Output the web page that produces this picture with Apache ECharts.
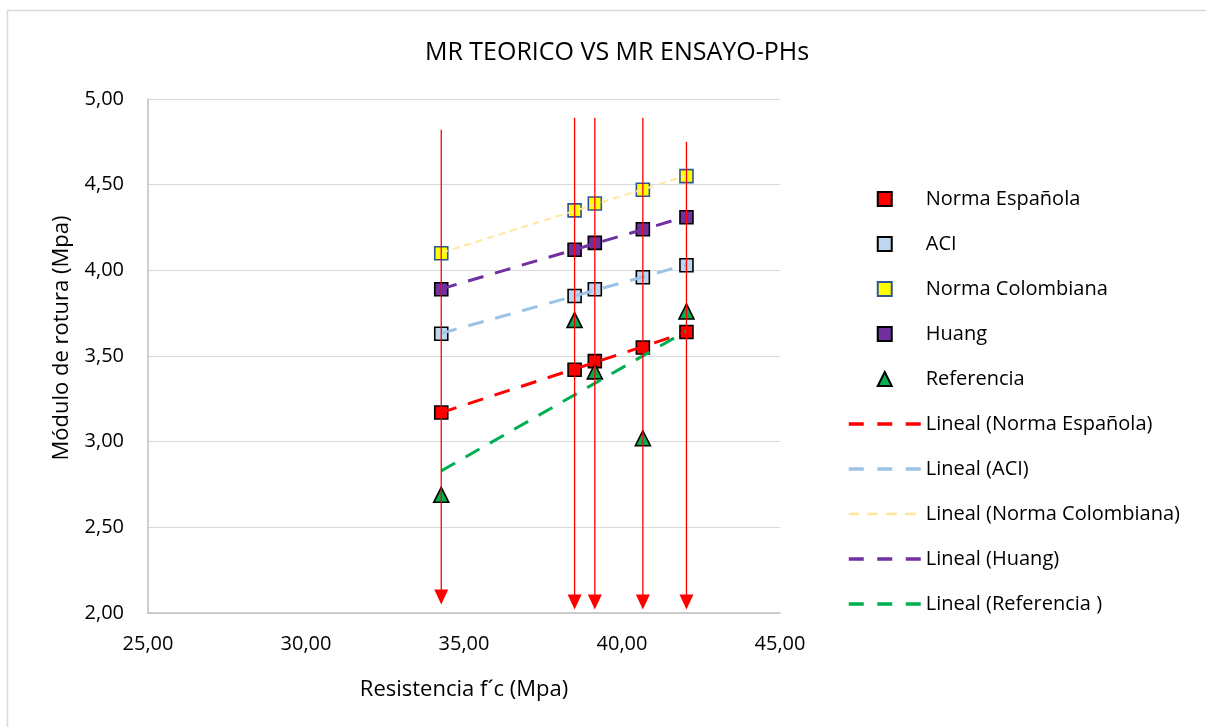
<!DOCTYPE html>
<html>
<head>
<meta charset="utf-8">
<script src="https://cdn.jsdelivr.net/npm/echarts@6/dist/echarts.min.js"></script>
<style>
  html, body { margin: 0; padding: 0; background: #fff; }
  #chart { width: 1206px; height: 727px; }
</style>
</head>
<body>
<div id="chart"></div>
<script>
// Resistencia f'c (Mpa) de cada ensayo
const resistencia = [34.28, 38.50, 39.14, 40.66, 42.04];

// Módulo de rotura (Mpa) según cada método
const normaEspanola   = [3.17, 3.42, 3.47, 3.55, 3.64];
const aci             = [3.63, 3.85, 3.89, 3.96, 4.03];
const normaColombiana = [4.10, 4.35, 4.39, 4.47, 4.55];
const huang           = [3.89, 4.12, 4.16, 4.24, 4.31];
const referencia      = [2.69, 3.71, 3.41, 3.02, 3.76];

// Flechas verticales: extremo superior e inferior (Mpa)
const flechaInicio = [4.82, 4.89, 4.89, 4.89, 4.75];
const flechaFin    = [2.05, 2.02, 2.02, 2.02, 2.02];

// Ejes
const xTicks = [25, 30, 35, 40, 45];
const yTicks = [2.0, 2.5, 3.0, 3.5, 4.0, 4.5, 5.0];

const FONT = '"Open Sans", "Noto Sans", sans-serif';

function pares(ys) { return resistencia.map((x, i) => [x, ys[i]]); }

// Recta de mínimos cuadrados (línea de tendencia lineal)
function tendencia(ys) {
  const n = resistencia.length;
  const mx = resistencia.reduce((a, b) => a + b, 0) / n;
  const my = ys.reduce((a, b) => a + b, 0) / n;
  let sxy = 0, sxx = 0;
  for (let i = 0; i < n; i++) {
    sxy += (resistencia[i] - mx) * (ys[i] - my);
    sxx += (resistencia[i] - mx) ** 2;
  }
  const m = sxy / sxx, b = my - m * mx;
  const x0 = Math.min(...resistencia), x1 = Math.max(...resistencia);
  return [[x0, m * x0 + b], [x1, m * x1 + b]];
}

const fmt = v => v.toFixed(2).replace('.', ',');

const metodos = [
  { name: 'Norma Española',   data: normaEspanola,   fill: '#FF0000', border: '#000000', symbol: 'rect',
    trend: 'Lineal (Norma Española)',   tColor: '#FF0000', tWidth: 3, tDash: [16, 12], lDash: [15, 13.5] },
  { name: 'ACI',              data: aci,             fill: '#BDD7EE', border: '#000000', symbol: 'rect',
    trend: 'Lineal (ACI)',              tColor: '#9DC3E6', tWidth: 3, tDash: [16, 12], lDash: [15, 13.5] },
  { name: 'Norma Colombiana', data: normaColombiana, fill: '#FFFF00', border: '#2F5597', symbol: 'rect',
    trend: 'Lineal (Norma Colombiana)', tColor: '#FFE699', tWidth: 2, tDash: [7, 5],   lDash: [10.5, 8.3] },
  { name: 'Huang',            data: huang,           fill: '#7030A0', border: '#000000', symbol: 'rect',
    trend: 'Lineal (Huang)',            tColor: '#7030A0', tWidth: 3, tDash: [16, 12], lDash: [15, 13.5] },
  { name: 'Referencia',       data: referencia,      fill: '#00B050', border: '#000000', symbol: 'triangle',
    trend: 'Lineal (Referencia )',      tColor: '#00B050', tWidth: 3, tDash: [16, 12], lDash: [15, 13.5] }
];

const iconSquare = 'path://M0,0L10,0L10,10L0,10Z';
const iconTriangle = 'path://M5,0L10,10L0,10Z';

const series = [];
const legendData = [];

metodos.forEach(m => {
  series.push({
    type: 'scatter',
    name: m.name,
    data: pares(m.data),
    symbol: m.symbol,
    symbolSize: m.symbol === 'triangle' ? [15, 15] : 13,
    itemStyle: { color: m.fill, borderColor: m.border, borderWidth: 1.6, opacity: 1 },
    z: 3
  });
  legendData.push({ name: m.name, icon: m.symbol === 'triangle' ? iconTriangle : iconSquare });
});

metodos.forEach(m => {
  series.push({
    type: 'line',
    name: m.trend,
    data: tendencia(m.data),
    symbol: 'none',
    silent: true,
    lineStyle: { color: m.tColor, width: m.tWidth, type: m.tDash, cap: 'butt' },
    itemStyle: { color: m.tColor },
    z: 4
  });
  legendData.push({
    name: m.trend,
    itemStyle: { opacity: 0, borderWidth: 0 },
    lineStyle: { type: m.lDash, width: m.tWidth + 0.5 }
  });
});

// Flechas rojas verticales
series.push({
  type: 'custom',
  name: 'flechas',
  silent: true,
  z: 6,
  data: resistencia.map((x, i) => [x, flechaInicio[i], flechaFin[i]]),
  renderItem: (params, api) => {
    const top = api.coord([api.value(0), api.value(1)]);
    const tip = api.coord([api.value(0), api.value(2)]);
    const headH = 15, headW = 7;
    return {
      type: 'group',
      children: [
        { type: 'line',
          shape: { x1: top[0], y1: top[1], x2: tip[0], y2: tip[1] - headH + 1 },
          style: { stroke: '#FF0000', lineWidth: 1.3 } },
        { type: 'polygon',
          shape: { points: [[tip[0] - headW, tip[1] - headH], [tip[0] + headW, tip[1] - headH], [tip[0], tip[1]]] },
          style: { fill: '#FF0000' } }
      ]
    };
  }
});

const chart = echarts.init(document.getElementById('chart'), null, { renderer: 'canvas' });

chart.setOption({
  backgroundColor: '#FFFFFF',
  animation: false,
  textStyle: { fontFamily: FONT },
  title: {
    text: 'MR TEORICO VS MR ENSAYO-PHs',
    left: 612, top: 35, textAlign: 'center',
    textStyle: { fontFamily: FONT, fontSize: 25, fontWeight: 'normal', color: '#000000' }
  },
  grid: { left: 148, top: 99, width: 632, height: 514, containLabel: false },
  legend: {
    orient: 'vertical',
    left: 847, top: 189, padding: 0,
    itemWidth: 72, itemHeight: 14,
    itemGap: 25,
    selectedMode: false,
    data: legendData,
    textStyle: { fontFamily: FONT, fontSize: 20, color: '#000000', lineHeight: 20 }
  },
  xAxis: {
    type: 'value',
    min: xTicks[0], max: xTicks[xTicks.length - 1], interval: 5,
    name: 'Resistencia f´c (Mpa)',
    nameLocation: 'middle', nameGap: 66,
    nameTextStyle: { fontFamily: FONT, fontSize: 22, color: '#000000' },
    axisLine: { show: true, onZero: false, lineStyle: { color: '#BFBFBF', width: 1.5 } },
    axisTick: { show: false },
    splitLine: { show: false },
    axisLabel: { fontFamily: FONT, fontSize: 20, color: '#000000', margin: 21, formatter: fmt }
  },
  yAxis: {
    type: 'value',
    min: yTicks[0], max: yTicks[yTicks.length - 1], interval: 0.5,
    axisLine: { show: true, lineStyle: { color: '#BFBFBF', width: 1.5 } },
    axisTick: { show: false },
    splitLine: { show: true, lineStyle: { color: '#D9D9D9', width: 1.2 } },
    axisLabel: { fontFamily: FONT, fontSize: 20, color: '#000000', margin: 24, formatter: fmt }
  },
  graphic: [
    { type: 'rect', z: 100, silent: true,
      shape: { x: 7.5, y: 10.5, width: 1400, height: 900 },
      style: { fill: 'none', stroke: '#D9D9D9', lineWidth: 1.5 } },
    { type: 'text', z: 100, silent: true,
      x: 62, y: 338, rotation: Math.PI / 2,
      style: { text: 'Módulo de rotura (Mpa)', fontFamily: FONT, fontSize: 22, fill: '#000000',
               align: 'center', verticalAlign: 'middle' } }
  ],
  series: series
});
</script>
</body>
</html>
